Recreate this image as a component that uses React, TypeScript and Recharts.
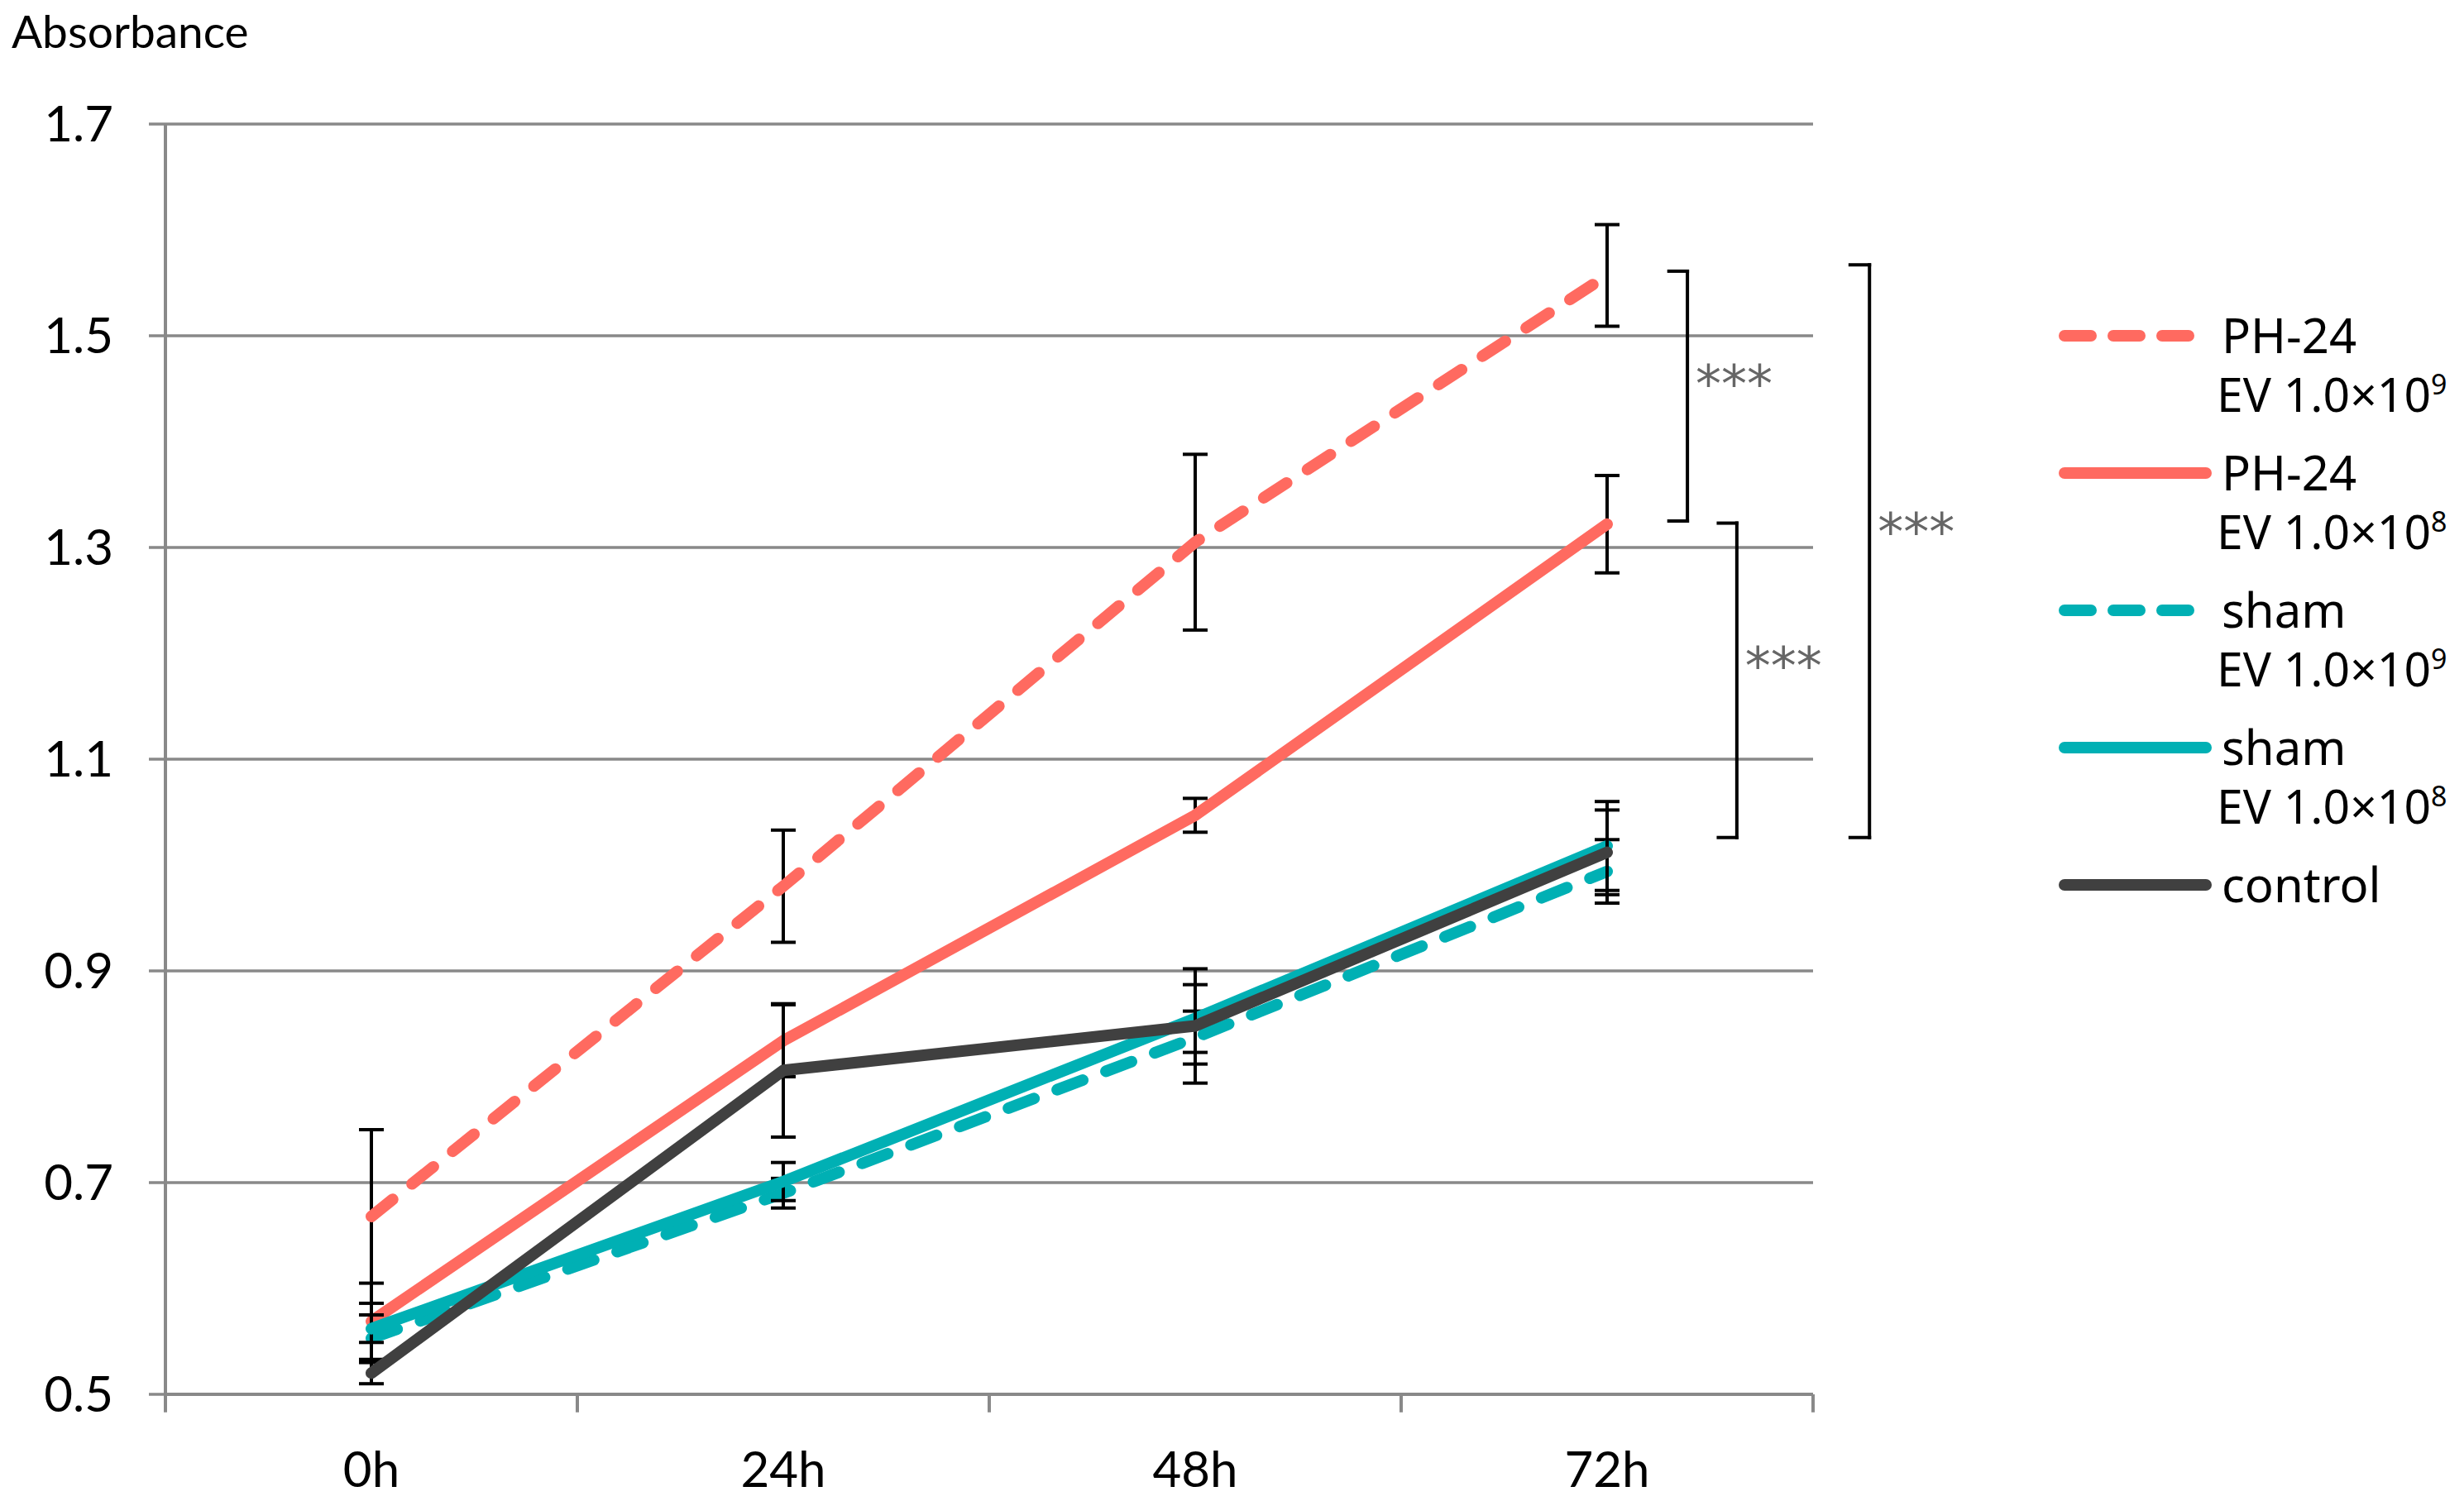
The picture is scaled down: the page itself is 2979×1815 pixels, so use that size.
import React from 'react';
import {
    LineChart,
    Line,
    XAxis,
    YAxis,
    CartesianGrid,
    ErrorBar,
    ReferenceLine,
    ReferenceDot,
} from 'recharts';

const RED = '#FF6A60';
const TEAL = '#00B0B4';
const DARK = '#404040';
const GRID = '#898989';

const hours = ['0h', '24h', '48h', '72h'];
const yTicks = [0.5, 0.7, 0.9, 1.1, 1.3, 1.5, 1.7];

const ph24Ev9 = [0.668, 0.98, 1.305, 1.557];
const ph24Ev9Err = [0.082, 0.053, 0.083, 0.048];
const ph24Ev8 = [0.569, 0.834, 1.047, 1.322];
const ph24Ev8Err = [0.036, 0.034, 0.016, 0.046];
const shamEv9 = [0.553, 0.69, 0.837, 0.994];
const shamEv9Err = [0.022, 0.014, 0.025, 0.03];
const shamEv8 = [0.562, 0.701, 0.855, 1.018];
const shamEv8Err = [0.013, 0.018, 0.032, 0.042];
const control = [0.52, 0.806, 0.848, 1.012];
const controlErr = [0.01, 0.063, 0.054, 0.04];

const series = [
    { key: 'ph9', name: 'PH-24', exp: '9', color: RED, dashed: true, values: ph24Ev9, errors: ph24Ev9Err },
    { key: 'ph8', name: 'PH-24', exp: '8', color: RED, dashed: false, values: ph24Ev8, errors: ph24Ev8Err },
    { key: 'sh9', name: 'sham', exp: '9', color: TEAL, dashed: true, values: shamEv9, errors: shamEv9Err },
    { key: 'sh8', name: 'sham', exp: '8', color: TEAL, dashed: false, values: shamEv8, errors: shamEv8Err },
    { key: 'ctrl', name: 'control', exp: '', color: DARK, dashed: false, values: control, errors: controlErr },
];

// significance brackets, x on the 0..4 category-band scale
const brackets = [
    { x0: 3.65, x1: 3.695, top: 1.561, bottom: 1.325, star: 1.455 },
    { x0: 3.77, x1: 3.815, top: 1.323, bottom: 1.026, star: 1.188 },
    { x0: 4.09, x1: 4.137, top: 1.567, bottom: 1.026, star: 1.315 },
];

const data = hours.map((h, i) => {
    const row: Record<string, number | string> = { hour: h, slot: i + 0.5 };
    series.forEach((s) => {
        row[s.key] = s.values[i];
        row[s.key + 'Err'] = s.errors[i];
    });
    return row;
});

const bandEdges = hours.map((_, i) => i).concat(hours.length);
const labelTicks = hours.map((_, i) => i + 0.5);

function Legend() {
    return (
        <svg
            width={2979}
            height={1815}
            style={{ position: 'absolute', left: 0, top: 0, pointerEvents: 'none' }}
        >
            <text x={14} y={58} fontFamily="Lato" fontSize={55} fill="#000">
                Absorbance
            </text>
            {series.map((s, i) => {
                const y = 406 + i * 166;
                return (
                    <g key={s.key}>
                        <line
                            x1={2496}
                            x2={2667}
                            y1={y}
                            y2={y}
                            stroke={s.color}
                            strokeWidth={14}
                            strokeLinecap="round"
                            strokeDasharray={s.dashed ? '32 27' : undefined}
                        />
                        <text x={2686} y={y + 21} fontFamily="Noto Sans" fontSize={58} fill="#000">
                            {s.name}
                        </text>
                        {s.exp && (
                            <text x={2680} y={y + 92} fontFamily="Noto Sans" fontSize={57} fill="#000">
                                EV 1.0×10
                                <tspan dy={-21} fontSize={34}>
                                    {s.exp}
                                </tspan>
                            </text>
                        )}
                    </g>
                );
            })}
        </svg>
    );
}

export default function App() {
    return (
        <div style={{ position: 'relative', width: 2979, height: 1815, background: '#fff' }}>
            <style>{'body{margin:0}'}</style>
            <LineChart
                width={2979}
                height={1815}
                data={data}
                margin={{ top: 150, right: 787, bottom: 29, left: 100 }}
            >
                <CartesianGrid vertical={false} stroke={GRID} strokeWidth={3.5} />
                <XAxis
                    type="number"
                    dataKey="slot"
                    domain={[0, hours.length]}
                    ticks={labelTicks}
                    tickFormatter={(v: number) => hours[Math.round(v - 0.5)]}
                    height={100}
                    axisLine={{ stroke: GRID, strokeWidth: 4 }}
                    tickLine={false}
                    tickSize={0}
                    tickMargin={69}
                    interval={0}
                    tick={{ fill: '#000', fontSize: 60, fontFamily: 'Lato' }}
                />
                <YAxis
                    domain={[0.5, 1.7]}
                    ticks={yTicks}
                    width={100}
                    tickFormatter={(v: number) => v.toFixed(1)}
                    axisLine={{ stroke: GRID, strokeWidth: 4 }}
                    tickLine={{ stroke: GRID, strokeWidth: 3.5 }}
                    tickSize={20}
                    tickMargin={43}
                    interval={0}
                    tick={{ fill: '#000', fontSize: 60, fontFamily: 'Lato' }}
                />
                {bandEdges.map((x) => (
                    <ReferenceLine
                        key={'edge' + x}
                        segment={[{ x, y: 0.5 }, { x, y: 0.483 }]}
                        ifOverflow="visible"
                        stroke={GRID}
                        strokeWidth={4}
                    />
                ))}
                {series.map((s) => (
                    <Line
                        key={s.key}
                        type="linear"
                        dataKey={s.key}
                        stroke={s.color}
                        strokeWidth={14}
                        strokeDasharray={s.dashed ? '33 30' : undefined}
                        strokeLinecap="round"
                        strokeLinejoin="round"
                        dot={false}
                        activeDot={false}
                        isAnimationActive={false}
                    >
                        <ErrorBar
                            dataKey={s.key + 'Err'}
                            direction="y"
                            width={15}
                            stroke="#000"
                            strokeWidth={4}
                            isAnimationActive={false}
                        />
                    </Line>
                ))}
                {brackets.map((b, i) => (
                    <React.Fragment key={i}>
                        <ReferenceLine
                            segment={[{ x: b.x0, y: b.top }, { x: b.x1, y: b.top }]}
                            ifOverflow="visible"
                            stroke="#000"
                            strokeWidth={4}
                            strokeLinecap="square"
                        />
                        <ReferenceLine
                            segment={[{ x: b.x1, y: b.top }, { x: b.x1, y: b.bottom }]}
                            ifOverflow="visible"
                            stroke="#000"
                            strokeWidth={4}
                            strokeLinecap="square"
                        />
                        <ReferenceLine
                            segment={[{ x: b.x0, y: b.bottom }, { x: b.x1, y: b.bottom }]}
                            ifOverflow="visible"
                            stroke="#000"
                            strokeWidth={4}
                            strokeLinecap="square"
                        />
                        <ReferenceDot
                            x={b.x1}
                            y={b.star}
                            r={0}
                            ifOverflow="visible"
                            label={{
                                value: '***',
                                position: 'right',
                                offset: 10,
                                fill: '#666666',
                                fontSize: 62,
                                fontFamily: 'DejaVu Sans',
                            }}
                        />
                    </React.Fragment>
                ))}
            </LineChart>
            <Legend />
        </div>
    );
}
